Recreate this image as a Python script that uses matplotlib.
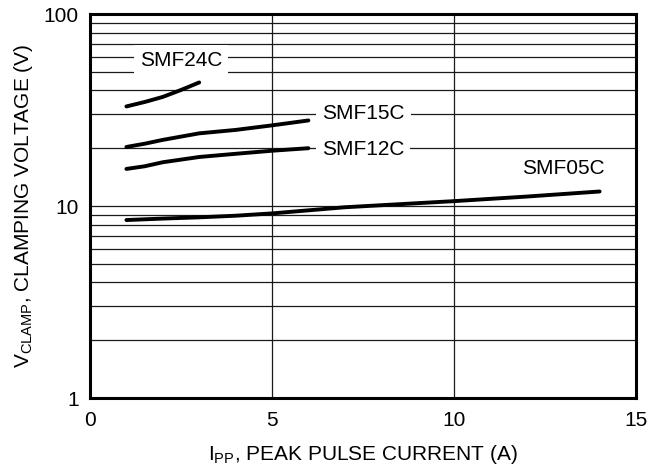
import numpy as np
import matplotlib
matplotlib.use("Agg")
import matplotlib.pyplot as plt
from matplotlib.ticker import LogLocator, FixedLocator, NullFormatter

plt.rcParams['font.family'] = ['Liberation Sans', 'DejaVu Sans']
plt.rcParams['mathtext.default'] = 'regular'

# curves
smf24c_x = [1, 1.5, 2, 2.5, 3]
smf24c_v = [33.0, 34.8, 37.0, 40.2, 44.0]

smf15c_x = [1, 1.5, 2, 3, 4, 5, 6]
smf15c_v = [20.3, 21.1, 22.1, 23.9, 24.9, 26.3, 27.9]

smf12c_x = [1, 1.5, 2, 3, 4, 5, 6]
smf12c_v = [15.6, 16.1, 16.9, 18.0, 18.7, 19.4, 20.0]

smf05c_x = [1, 2, 3, 4, 5, 7, 10, 12, 14]
smf05c_v = [8.45, 8.6, 8.73, 8.9, 9.15, 9.85, 10.6, 11.2, 11.9]

labels = ['SMF24C', 'SMF15C', 'SMF12C', 'SMF05C']
label_x = [2.5, 7.5, 7.5, 13.0]
label_v = [57, 30.2, 19.8, 15.7]

fig = plt.figure(figsize=(6.51, 4.70), dpi=100)
ax = fig.add_axes([90 / 651, 1 - 398 / 470, 546 / 651, 384 / 470])

ax.set_yscale('log')
ax.set_xlim(0, 15)
ax.set_ylim(1, 100)

# grid
ax.yaxis.set_minor_locator(LogLocator(base=10, subs=np.arange(2, 10)))
ax.yaxis.set_minor_formatter(NullFormatter())
ax.yaxis.set_major_locator(FixedLocator([1, 10, 100]))
ax.set_yticklabels(['1', '10', '100'])
ax.set_xticks([0, 5, 10, 15])
ax.grid(True, which='both', axis='y', color='#1a1a1a', lw=0.9)
ax.grid(True, which='major', axis='x', color='#1a1a1a', lw=0.9)
ax.tick_params(which='both', length=0, labelsize=15)
ax.tick_params(axis='x', pad=9)
ax.tick_params(axis='y', pad=8)

for s in ax.spines.values():
    s.set_linewidth(2.2)

for xs, vs in [(smf24c_x, smf24c_v), (smf15c_x, smf15c_v),
               (smf12c_x, smf12c_v), (smf05c_x, smf05c_v)]:
    ax.plot(xs, vs, color='black', lw=2.8, solid_capstyle='round', zorder=3)

for i, name in enumerate(labels):
    box = None
    if i < 3:
        box = dict(boxstyle='square,pad=0.3', fc='white', ec='none')
    ax.text(label_x[i], label_v[i], name, fontsize=15, ha='center', va='center',
            bbox=box, zorder=4)

ax.set_xlabel('I$_{PP}$, PEAK PULSE CURRENT (A)', fontsize=15, labelpad=10)
ax.set_ylabel('V$_{CLAMP}$, CLAMPING VOLTAGE (V)', fontsize=15, labelpad=6)

fig.savefig('out.png', dpi=100)
